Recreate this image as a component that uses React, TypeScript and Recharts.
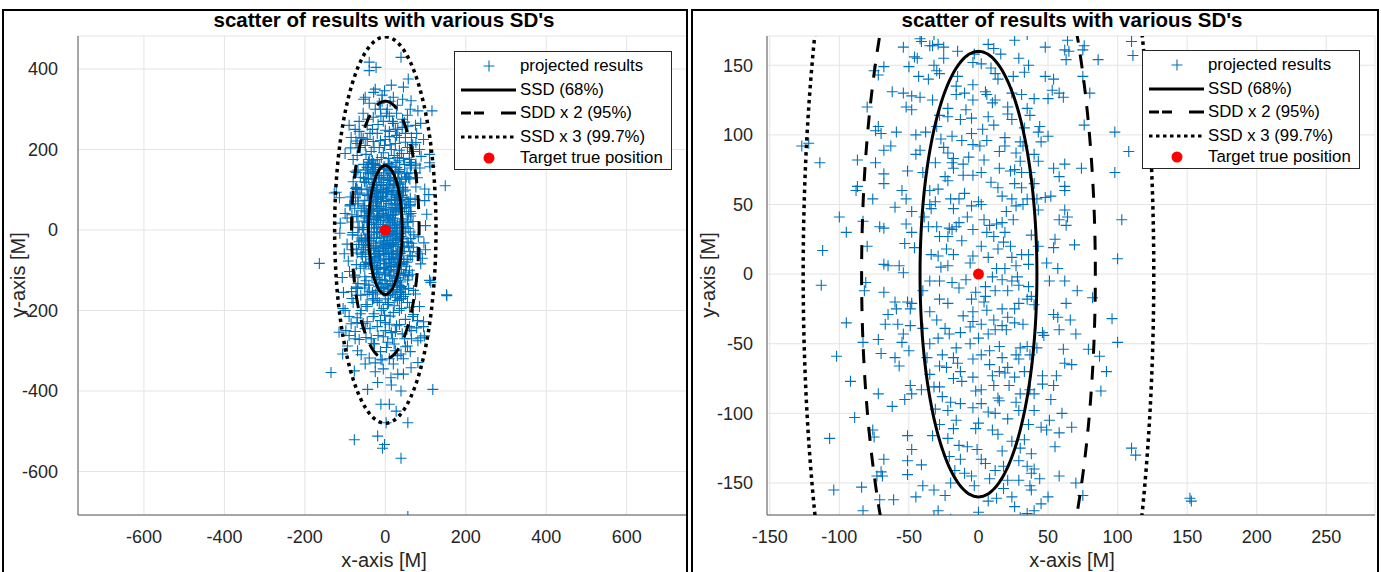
import { ScatterChart, Scatter, XAxis, YAxis, CartesianGrid } from 'recharts'

type Pt = [number, number]

const hitsTopLeft: Pt[] = [
  [-122, 94], [-114, 80], [-100, 41], [-95, 30], [-112, 17], [-87, 82], [-87, 63], [-83, 38], [-80, 20],
  [-74, 103], [-72, 106], [-70, 101], [-59, 102], [-68, 89], [-63, 92], [-74, 80], [-68, 72], [-68, 65],
  [-76, 54], [-71, 34], [-68, 33], [-68, 149], [-72, 143], [-75, 146], [-62, 131], [-54, 130], [-54, 163],
  [-46, 156], [-44, 155], [-50, 149], [-43, 142], [-48, 128], [-42, 127], [-52, 120], [-48, 118], [-42, 169],
  [-41, 167], [-35, 164], [-29, 165], [-25, 163], [-33, 164], [-32, 150], [-30, 146], [-28, 144], [-33, 125],
  [-28, 114], [-22, 119], [-22, 113], [-13, 111], [-15, 142], [-16, 135], [-16, 129], [-19, 99], [-30, 106],
  [-38, 102], [-42, 89], [-45, 86], [-40, 73], [-51, 74], [-31, 80], [-25, 91], [-22, 87], [-18, 83],
  [-19, 80], [-18, 76], [-22, 67], [-11, 71], [-11, 79], [-35, 60], [-29, 61], [-31, 52], [-35, 50],
  [-34, 47], [-20, 54], [-14, 54], [-18, 47], [-14, 37], [-16, 34], [-21, 33], [-52, 54], [-60, 48],
  [-48, 45], [-52, 36], [-48, 30], [-53, 22], [-46, 19], [-36, 34], [-30, 34], [-28, 27], [-22, 27],
  [-19, 32], [-23, 18], [-34, 14], [-29, 13], [-22, 6], [-68, 7], [-65, 6], [-57, 6], [-54, 1],
]

const hitsTopRight: Pt[] = [
  [7, 165], [26, 168], [11, 162], [48, 163], [64, 168], [62, 161], [65, 160], [76, 164], [75, 161],
  [63, 154], [86, 154], [111, 157], [29, 155], [2, 151], [-4, 152], [12, 144], [14, 140], [25, 142],
  [33, 145], [48, 142], [54, 140], [75, 142], [-4, 136], [5, 131], [6, 129], [10, 123], [24, 130],
  [31, 129], [40, 126], [50, 126], [53, 132], [61, 127], [58, 130], [-4, 125], [-5, 112], [7, 113],
  [11, 107], [21, 115], [21, 120], [24, 111], [35, 119], [37, 114], [44, 106], [43, 102], [50, 99],
  [76, 107], [98, 102], [108, 88], [98, 73], [-5, 101], [6, 96], [-4, 93], [1, 92], [19, 98],
  [19, 92], [30, 95], [32, 92], [27, 87], [40, 86], [43, 81], [4, 82], [15, 76], [26, 75],
  [23, 74], [30, 81], [31, 73], [37, 73], [54, 76], [62, 79], [74, 76], [58, 70], [2, 73],
  [-4, 71], [14, 62], [31, 62], [40, 65], [62, 63], [62, 60], [52, 56], [48, 55], [42, 54],
  [35, 54], [24, 54], [17, 56], [0, 52], [2, 50], [-5, 49], [27, 49], [32, 50], [43, 46],
  [62, 46], [64, 41], [58, 39], [63, 35], [25, 39], [17, 37], [13, 36], [8, 35], [6, 30],
  [-4, 32], [11, 27], [18, 23], [23, 20], [2, 20], [54, 19], [69, 21], [43, 20], [103, 39],
  [100, 11], [31, 14], [36, 14], [24, 12], [7, 12], [-4, 13], [27, 6], [36, 7], [49, 8],
  [57, 4], [13, 4], [19, 4],
]

const hitsBottomLeft: Pt[] = [
  [-113, -8], [-102, -59], [-92, -77], [-89, -103], [-107, -118], [-104, -155], [-84, -153], [-83, -170],
  [-81, -6], [-82, -12], [-68, -13], [-83, -49], [-70, -57], [-72, -86], [-76, -112], [-75, -117],
  [-68, -133], [-70, -142], [-73, -145], [-69, -145], [-71, -162], [-61, -162], [-51, -116], [-48, -126],
  [-51, -134], [-41, -137], [-51, -144], [-40, -152], [-32, -155], [-24, -159], [-29, -170], [-51, -20],
  [-48, -21], [-49, -25], [-59, -25], [-65, -29], [-67, -36], [-58, -36], [-49, -37], [-54, -43],
  [-55, -49], [-72, -47], [-50, -55], [-60, -60], [-57, -66], [-49, -80], [-48, -86], [-53, -90],
  [-41, -83], [-35, -27], [-40, -39], [-35, -50], [-35, -72], [-32, -81], [-28, -81], [-31, -97],
  [-28, -108], [-22, -98], [-22, -118], [-18, -111], [-16, -105], [-14, -123], [-13, -133], [-17, -141],
  [-10, -143], [-35, -5], [-28, -5], [-19, -6], [-14, -10], [-28, -18], [-22, -21], [-30, -33],
  [-24, -39], [-21, -43], [-29, -46], [-13, -42], [-26, -58], [-18, -60], [-15, -64], [-23, -67],
  [-28, -66], [-18, -75], [-12, -77], [-20, -92], [-13, -93],
]

const hitsBottomRight: Pt[] = [
  [51, -5], [62, -5], [71, -12], [82, -17], [96, -32], [100, -49], [63, -21], [54, -29], [57, -31],
  [66, -33], [70, -43], [61, -54], [79, -54], [87, -59], [62, -64], [67, -65], [56, -73], [46, -73],
  [46, -79], [54, -80], [88, -84], [52, -90], [40, -98], [51, -105], [45, -110], [49, -112], [58, -114],
  [67, -110], [55, -124], [113, -130], [38, -129], [58, -145], [44, -147], [50, -160], [75, -159], [38, -155],
  [37, -152], [40, -170], [46, -42], [47, -44], [42, -53], [35, -52], [30, -53], [27, -58], [37, -58],
  [29, -61], [21, -67], [15, -70], [19, -71], [26, -74], [10, -73], [-4, -74], [2, -83], [-2, -84],
  [14, -89], [15, -91], [30, -86], [40, -86], [37, -83], [7, -99], [12, -100], [21, -104], [29, -98],
  [36, -108], [0, -107], [-2, -111], [14, -115], [24, -120], [33, -119], [17, -127], [2, -133], [5, -136],
  [12, -141], [29, -134], [35, -138], [8, -147], [18, -154], [24, -160], [13, -161], [29, -148], [38, -143],
  [40, -140], [26, -167], [0, -171], [-5, -145], [-4, -61], [2, -58], [8, -55], [17, -60], [0, -46],
  [7, -43], [12, -40], [17, -37], [26, -35], [32, -36], [21, -31], [11, -33], [2, -36], [-4, -34],
  [-4, -27], [6, -26], [17, -25], [26, -25], [29, -21], [35, -18], [38, -16], [36, -9], [29, -8],
  [21, -12], [12, -12], [5, -9], [-2, -13], [-5, -18], [5, -16], [17, -4], [24, -5], [152, -161],
]

// crowded centre, estimated where crosses overlap
const hitsCore: Pt[] = [
  [-3, 158], [9, 148], [-9, 118], [3, 104], [-12, 96], [15, 88], [-7, 84], [9, 66], [-10, 58], [20, 45],
  [-8, 41], [4, 39], [-12, 24], [14, 18], [-6, 8], [10, -2], [-9, -4], [4, -20], [-11, -30], [20, -40],
  [-6, -50], [8, -65], [-13, -70], [22, -80], [-4, -96], [10, -112], [-8, -124], [18, -138], [-3, -152], [7, -163],
  [-36, 140], [36, 150], [-27, 97], [33, 105], [-39, 41], [38, 28], [-40, -12], [40, -22], [-37, -60], [33, -70],
  [-33, -116], [30, -125], [-20, -150], [21, -148], [-25, 155], [-15, 160], [16, 158], [-24, 70], [26, 65],
  [-26, -88], [27, -92], [-10, 130], [12, 125], [-27, 5], [28, -2], [-18, 14], [19, 30], [-6, -38],
  [-16, -53], [15, -52], [-1, -126], [11, -80], [-21, -131], [2, -93], [-45, 100], [45, 95], [-55, 60],
  [55, 25], [-60, -20], [58, -40], [-62, -95], [60, -100], [-45, -160], [45, -165], [-80, 120], [80, 130],
  [-95, -35], [92, -70], [-88, 60], [70, -150],
]

// hits only visible in the wide (left) panel
const tailUpper: Pt[] = [
  [-40, 417], [-40, 396], [-23, 404], [39, 429], [57, 375], [-2, 346], [-29, 342], [-54, 325], [-15, 315],
  [43, 325], [64, 321], [81, 296], [116, 296], [10, 283], [-11, 283], [-32, 250], [31, 250], [56, 258],
  [43, 275], [-44, 275], [-86, 204], [-73, 221], [76, 217], [89, 183], [110, 188], [-60, 230], [-50, 210],
  [-35, 195], [-20, 240], [0, 225], [15, 200], [25, 215], [40, 190], [55, 205], [70, 195], [-70, 185],
  [-45, 260], [-25, 300], [5, 300], [20, 265], [35, 230], [-10, 180], [10, 245], [-30, 220], [50, 240],
  [65, 230], [-80, 175], [85, 200], [-5, 270], [28, 290], [-55, 290], [45, 178], [-15, 205], [30, 180],
  [-40, 175], [60, 175], [75, 260], [-65, 245], [12, 320], [-8, 335],
  [-20, 175], [8, 178], [22, 185], [-48, 188], [-5, 192], [35, 198], [-28, 205], [12, 212], [50, 218],
  [-12, 222], [-55, 228], [28, 235], [-38, 240], [0, 248], [42, 255], [-18, 262], [18, 270], [-30, 280],
  [55, 285], [-62, 205], [68, 212], [-75, 250], [78, 240], [3, 290], [-12, 300], [30, 310], [-40, 315],
  [20, 330], [-25, 350], [45, 355], [-65, 270], [62, 300], [-85, 230], [88, 265], [-50, 330], [35, 172],
  [-32, 172], [60, 190], [-70, 215], [10, 232], [-2, 210], [25, 250], [-45, 225], [48, 268], [-8, 320],
  [-90, 260], [95, 225], [-100, 190], [15, 360],
]

const tailLower: Pt[] = [
  [-115, -254], [-98, -250], [-48, -267], [-27, -283], [6, -279], [22, -283], [64, -250], [81, -275],
  [97, -263], [39, -308], [-11, -321], [-135, -354], [-77, -350], [-19, -379], [-44, -396], [14, -367],
  [31, -358], [64, -342], [81, -329], [118, -396], [39, -400], [-11, -433], [10, -433], [27, -450],
  [56, -479], [2, -479], [-77, -521], [-19, -512], [-7, -542], [-2, -533], [39, -567], [56, -712],
  [-94, -288], [-106, -308], [-69, -300], [-80, -180], [-60, -200], [-45, -190], [-30, -215], [-10, -200],
  [5, -185], [20, -205], [40, -195], [55, -180], [70, -210], [85, -190], [-70, -230], [-50, -245],
  [-20, -240], [0, -230], [15, -255], [35, -235], [60, -240], [80, -225], [-90, -215], [-35, -270],
  [-5, -265], [25, -300], [50, -290], [-60, -310], [10, -320], [-25, -330], [45, -320], [95, -240],
  [-100, -200], [30, -175], [-15, -180], [65, -270], [-75, -270],
  [-20, -176], [8, -180], [22, -188], [-48, -185], [-5, -195], [35, -200], [-28, -208], [12, -214],
  [50, -222], [-12, -225], [-55, -232], [28, -238], [-38, -244], [0, -250], [42, -258], [-18, -262],
  [18, -270], [-30, -282], [55, -288], [-62, -208], [68, -215], [-75, -252], [78, -243], [3, -292],
  [-12, -302], [30, -312], [-40, -318], [20, -333], [-25, -352], [45, -358], [-65, -272], [62, -302],
  [-85, -233], [88, -268], [-50, -333], [35, -172], [-32, -174], [60, -192], [-70, -218], [10, -234],
  [-2, -212], [25, -252], [-45, -228], [48, -270], [-8, -323], [-90, -262], [95, -228], [-105, -195],
  [-5, -345], [15, -385],
]

const tailSide: Pt[] = [[149, 110], [-164, -83], [153, -163], [110, -125], [-127, 92], [110, 167]]

const target: Pt[] = [[0, 0]]

const SD_X = 42
const SD_Y = 160

const wideXTicks = [-600, -400, -200, 0, 200, 400, 600]
const wideYTicks = [-600, -400, -200, 0, 200, 400]
const zoomXTicks = [-150, -100, -50, 0, 50, 100, 150, 200, 250]
const zoomYTicks = [-150, -100, -50, 0, 50, 100, 150]

const FONT = '"Liberation Sans", Arial, Helvetica, sans-serif'
const BLUE = '#0072BD'

const allHits = [
  ...hitsTopLeft, ...hitsTopRight, ...hitsBottomLeft, ...hitsBottomRight, ...hitsCore,
  ...tailUpper, ...tailLower, ...tailSide,
].map(([x, y]) => ({ x, y }))

const targetData = target.map(([x, y]) => ({ x, y }))

// outline of the k-sigma ellipse
function ellipse(k: number) {
  const pts = []
  for (let i = 0; i <= 240; i++) {
    const t = (i / 240) * Math.PI * 2
    pts.push({ x: k * SD_X * Math.sin(t), y: k * SD_Y * Math.cos(t) })
  }
  return pts
}

const plus = (props: any) => {
  const { cx, cy } = props
  if (cx == null || cy == null) return <g />
  return (
    <path
      d={`M${cx - 5.5},${cy}h11M${cx},${cy - 5.5}v11`}
      stroke={BLUE}
      strokeWidth={1.1}
      fill="none"
    />
  )
}

const dot = (props: any) => <circle cx={props.cx} cy={props.cy} r={5.5} fill="#ff0000" />
const nothing = () => <g />

const LEGEND_ROWS = ['projected results', 'SSD (68%)', 'SDD x 2 (95%)', 'SSD x 3 (99.7%)', 'Target true position']

function PanelLegend({ left, top }: { left: number; top: number }) {
  const rowY = [14, 38, 61, 85, 106]
  return (
    <div
      style={{
        position: 'absolute', left, top, width: 218, height: 119, boxSizing: 'border-box',
        border: '1px solid #262626', background: '#fff', fontFamily: FONT, fontSize: 16.8, color: '#000',
      }}
    >
      <svg width={216} height={117} style={{ position: 'absolute', left: 0, top: 0 }}>
        <path d={`M28.5,${rowY[0]}h11M34,${rowY[0] - 5.5}v11`} stroke={BLUE} strokeWidth={1.1} />
        <line x1={6} x2={61} y1={rowY[1]} y2={rowY[1]} stroke="#000" strokeWidth={3} />
        <line x1={6} x2={61} y1={rowY[2]} y2={rowY[2]} stroke="#000" strokeWidth={3} strokeDasharray="10 3 10 17 15" />
        <line x1={6} x2={61} y1={rowY[3]} y2={rowY[3]} stroke="#000" strokeWidth={3} strokeDasharray="3.5 3.5" />
        <circle cx={34} cy={rowY[4]} r={5.5} fill="#ff0000" />
      </svg>
      {LEGEND_ROWS.map((t, i) => (
        <div key={t} style={{ position: 'absolute', left: 65, top: rowY[i] - 10, lineHeight: '20px', whiteSpace: 'nowrap' }}>
          {t}
        </div>
      ))}
    </div>
  )
}

interface PanelProps {
  left: number
  xDomain: [number, number]
  yDomain: [number, number]
  xTicks: number[]
  yTicks: number[]
  marginLeft: number
  marginRight: number
  yTickGap: number
}

function Panel({ left, xDomain, yDomain, xTicks, yTicks, marginLeft, marginRight, yTickGap }: PanelProps) {
  const tick = { fontSize: 18, fill: '#262626', fontFamily: FONT }
  return (
    <div style={{ position: 'absolute', left, top: 0, width: 690, height: 572 }}>
      <ScatterChart width={690} height={572} margin={{ top: 36, right: marginRight, bottom: 27, left: marginLeft }}>
        <CartesianGrid stroke="#e4e4e4" />
        <XAxis
          type="number" dataKey="x" domain={xDomain} ticks={xTicks} allowDataOverflow
          interval={0} tickLine={false} tickMargin={9} height={30}
          axisLine={{ stroke: '#5a5a5a' }} tick={tick}
        />
        <YAxis
          type="number" dataKey="y" domain={yDomain} ticks={yTicks} allowDataOverflow
          interval={0} tickLine={false} tickMargin={yTickGap} width={60}
          axisLine={{ stroke: '#5a5a5a' }} tick={tick}
        />
        <Scatter data={allHits} shape={plus} isAnimationActive={false} />
        <Scatter data={ellipse(1)} shape={nothing} line={{ stroke: '#000', strokeWidth: 3 }} isAnimationActive={false} />
        <Scatter
          data={ellipse(2)} shape={nothing} isAnimationActive={false}
          line={{ stroke: '#000', strokeWidth: 3, strokeDasharray: '14 12' }}
        />
        <Scatter
          data={ellipse(3)} shape={nothing} isAnimationActive={false}
          line={{ stroke: '#000', strokeWidth: 3.5, strokeDasharray: '3.5 4' }}
        />
        <Scatter data={targetData} shape={dot} isAnimationActive={false} />
      </ScatterChart>
    </div>
  )
}

const titleStyle: React.CSSProperties = {
  position: 'absolute', top: 8, fontFamily: FONT, fontSize: 20.5, fontWeight: 'bold',
  color: '#000', whiteSpace: 'nowrap', transform: 'translateX(-50%)',
}
const axisLabelStyle: React.CSSProperties = {
  position: 'absolute', fontFamily: FONT, fontSize: 20, color: '#262626', whiteSpace: 'nowrap',
}

export default function App() {
  return (
    <div style={{ position: 'absolute', left: 0, top: 0, width: 1381, height: 572, background: '#fff', overflow: 'hidden' }}>
      <Panel
        left={0} xDomain={[-764, 750]} yDomain={[-708, 482]} yTickGap={14}
        xTicks={wideXTicks} yTicks={wideYTicks} marginLeft={18} marginRight={3}
      />
      <Panel
        left={690} xDomain={[-152, 285]} yDomain={[-173, 171]} yTickGap={8}
        xTicks={zoomXTicks} yTicks={zoomYTicks} marginLeft={17} marginRight={5}
      />

      <div style={{ ...titleStyle, left: 384 }}>scatter of results with various SD's</div>
      <div style={{ ...titleStyle, left: 1072 }}>scatter of results with various SD's</div>

      <div style={{ ...axisLabelStyle, left: 384, top: 549, transform: 'translateX(-50%)' }}>x-axis [M]</div>
      <div style={{ ...axisLabelStyle, left: 1072, top: 549, transform: 'translateX(-50%)' }}>x-axis [M]</div>
      <div style={{ ...axisLabelStyle, left: 18, top: 275, transform: 'translate(-50%, -50%) rotate(-90deg)' }}>y-axis [M]</div>
      <div style={{ ...axisLabelStyle, left: 708, top: 275, transform: 'translate(-50%, -50%) rotate(-90deg)' }}>y-axis [M]</div>

      <PanelLegend left={454} top={51} />
      <PanelLegend left={1142} top={50} />

      <div style={{ position: 'absolute', left: 2, top: 9, width: 686, height: 600, border: '2px solid #000', boxSizing: 'border-box', pointerEvents: 'none' }} />
      <div style={{ position: 'absolute', left: 691, top: 9, width: 688, height: 600, border: '2px solid #000', boxSizing: 'border-box', pointerEvents: 'none' }} />
    </div>
  )
}
